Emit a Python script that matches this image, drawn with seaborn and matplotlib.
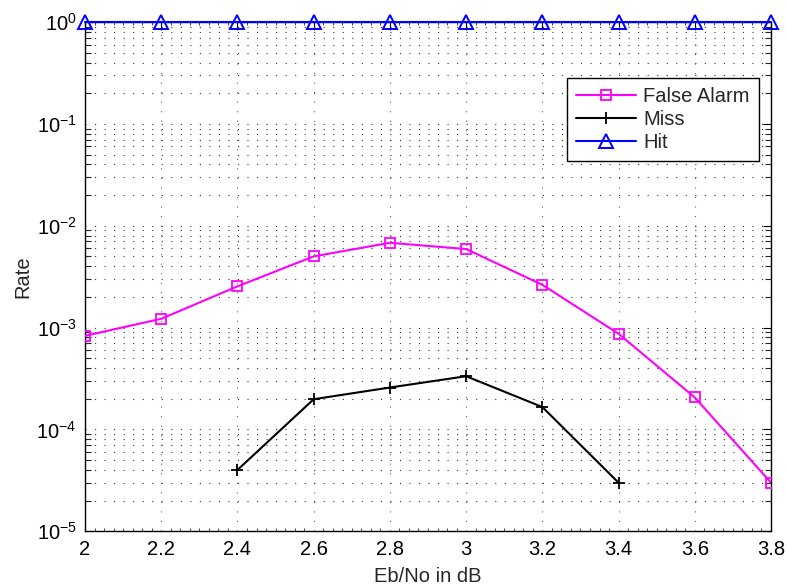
import matplotlib
matplotlib.use("Agg")
import matplotlib.pyplot as plt
import matplotlib.ticker as mticker
import seaborn as sns
import pandas as pd
import numpy as np

# ---- data ----
ebno = [2.0, 2.2, 2.4, 2.6, 2.8, 3.0, 3.2, 3.4, 3.6, 3.8]
false_alarm = [8.3e-4, 1.22e-3, 2.54e-3, 5.0e-3, 6.8e-3, 5.9e-3, 2.63e-3, 8.7e-4, 2.06e-4, 3.0e-5]
miss_x = [2.4, 2.6, 2.8, 3.0, 3.2, 3.4]
miss = [4.0e-5, 1.98e-4, 2.58e-4, 3.33e-4, 1.66e-4, 3.0e-5]
hit = [1, 1, 1, 1, 1, 1, 1, 1, 1, 1]
x_ticks = [2, 2.2, 2.4, 2.6, 2.8, 3, 3.2, 3.4, 3.6, 3.8]
x_tick_labels = ["2", "2.2", "2.4", "2.6", "2.8", "3", "3.2", "3.4", "3.6", "3.8"]

sns.set_theme(style="white")
plt.rcParams["font.family"] = ["Liberation Sans", "DejaVu Sans"]
plt.rcParams["mathtext.fontset"] = "custom"
plt.rcParams["mathtext.rm"] = "Liberation Sans"
plt.rcParams["mathtext.it"] = "Liberation Sans:italic"
plt.rcParams["mathtext.bf"] = "Liberation Sans:bold"
plt.rcParams["lines.scale_dashes"] = False

fig = plt.figure(figsize=(7.87, 5.88), dpi=100)
fig.patch.set_facecolor("white")
ax = fig.add_axes([85 / 787, 1 - 531.3 / 588, 686 / 787, 509.3 / 588])
ax.set_facecolor("white")

df_fa = pd.DataFrame({"x": ebno, "y": false_alarm})
df_miss = pd.DataFrame({"x": miss_x, "y": miss})
df_hit = pd.DataFrame({"x": ebno, "y": hit})

sns.lineplot(data=df_fa, x="x", y="y", ax=ax, color="#ff00ff", lw=1.5,
             marker="s", markersize=7.8, markerfacecolor="none",
             markeredgecolor="#ff00ff", markeredgewidth=1.3, label="False Alarm",
             zorder=5)
sns.lineplot(data=df_miss, x="x", y="y", ax=ax, color="black", lw=1.5,
             marker="+", markersize=9, markeredgewidth=1.3,
             markeredgecolor="black", markerfacecolor="black", label="Miss",
             zorder=5)
sns.lineplot(data=df_hit, x="x", y="y", ax=ax, color="#0000ff", lw=1.5,
             marker="^", markersize=9.5, markerfacecolor="none",
             markeredgecolor="#0000ff", markeredgewidth=1.4, label="Hit",
             zorder=6, clip_on=False)

ax.set_yscale("log")
ax.set_xlim(2, 3.8)
ax.set_ylim(1e-5, 1)
ax.set_xticks(x_ticks)
ax.set_xticklabels(x_tick_labels)
ax.xaxis.set_minor_locator(mticker.MultipleLocator(0.025))
ax.yaxis.set_major_locator(mticker.LogLocator(base=10, numticks=10))
ax.yaxis.set_minor_locator(mticker.LogLocator(base=10, subs=np.arange(2, 10), numticks=20))
ax.yaxis.set_minor_formatter(mticker.NullFormatter())

ax.tick_params(axis="both", which="major", direction="in", length=6, width=0.8,
               top=True, right=True, labelsize=14.5, pad=6, colors="black")
ax.tick_params(axis="x", which="minor", direction="in", length=2, width=0.6,
               top=True, bottom=True)
ax.tick_params(axis="y", which="minor", direction="in", length=4, width=0.8,
               left=True, right=True)

dot = (0, (0.8, 6.06))
ax.grid(True, which="major", axis="x", linestyle=dot, color="#666666", lw=0.8)
ax.grid(True, which="major", axis="y", linestyle=dot, color="#333333", lw=0.8)
ax.grid(True, which="minor", axis="y", linestyle=dot, color="#333333", lw=0.8)
ax.set_axisbelow(True)

for s in ax.spines.values():
    s.set_color("black")
    s.set_linewidth(1.0)
    s.set_visible(True)

ax.set_xlabel("Eb/No in dB", fontsize=14.5, labelpad=6)
ax.set_ylabel("Rate", fontsize=14.5, labelpad=3)

leg = ax.legend(loc="upper right", bbox_to_anchor=(0.9825, 0.89), borderaxespad=0,
                fontsize=14.5, frameon=True, fancybox=False, handlelength=3.0,
                handletextpad=0.35, labelspacing=0.2, borderpad=0.45)
leg.get_frame().set_edgecolor("black")
leg.get_frame().set_linewidth(1.0)
leg.get_frame().set_alpha(1)

fig.savefig("out.png", dpi=100, facecolor="white")
